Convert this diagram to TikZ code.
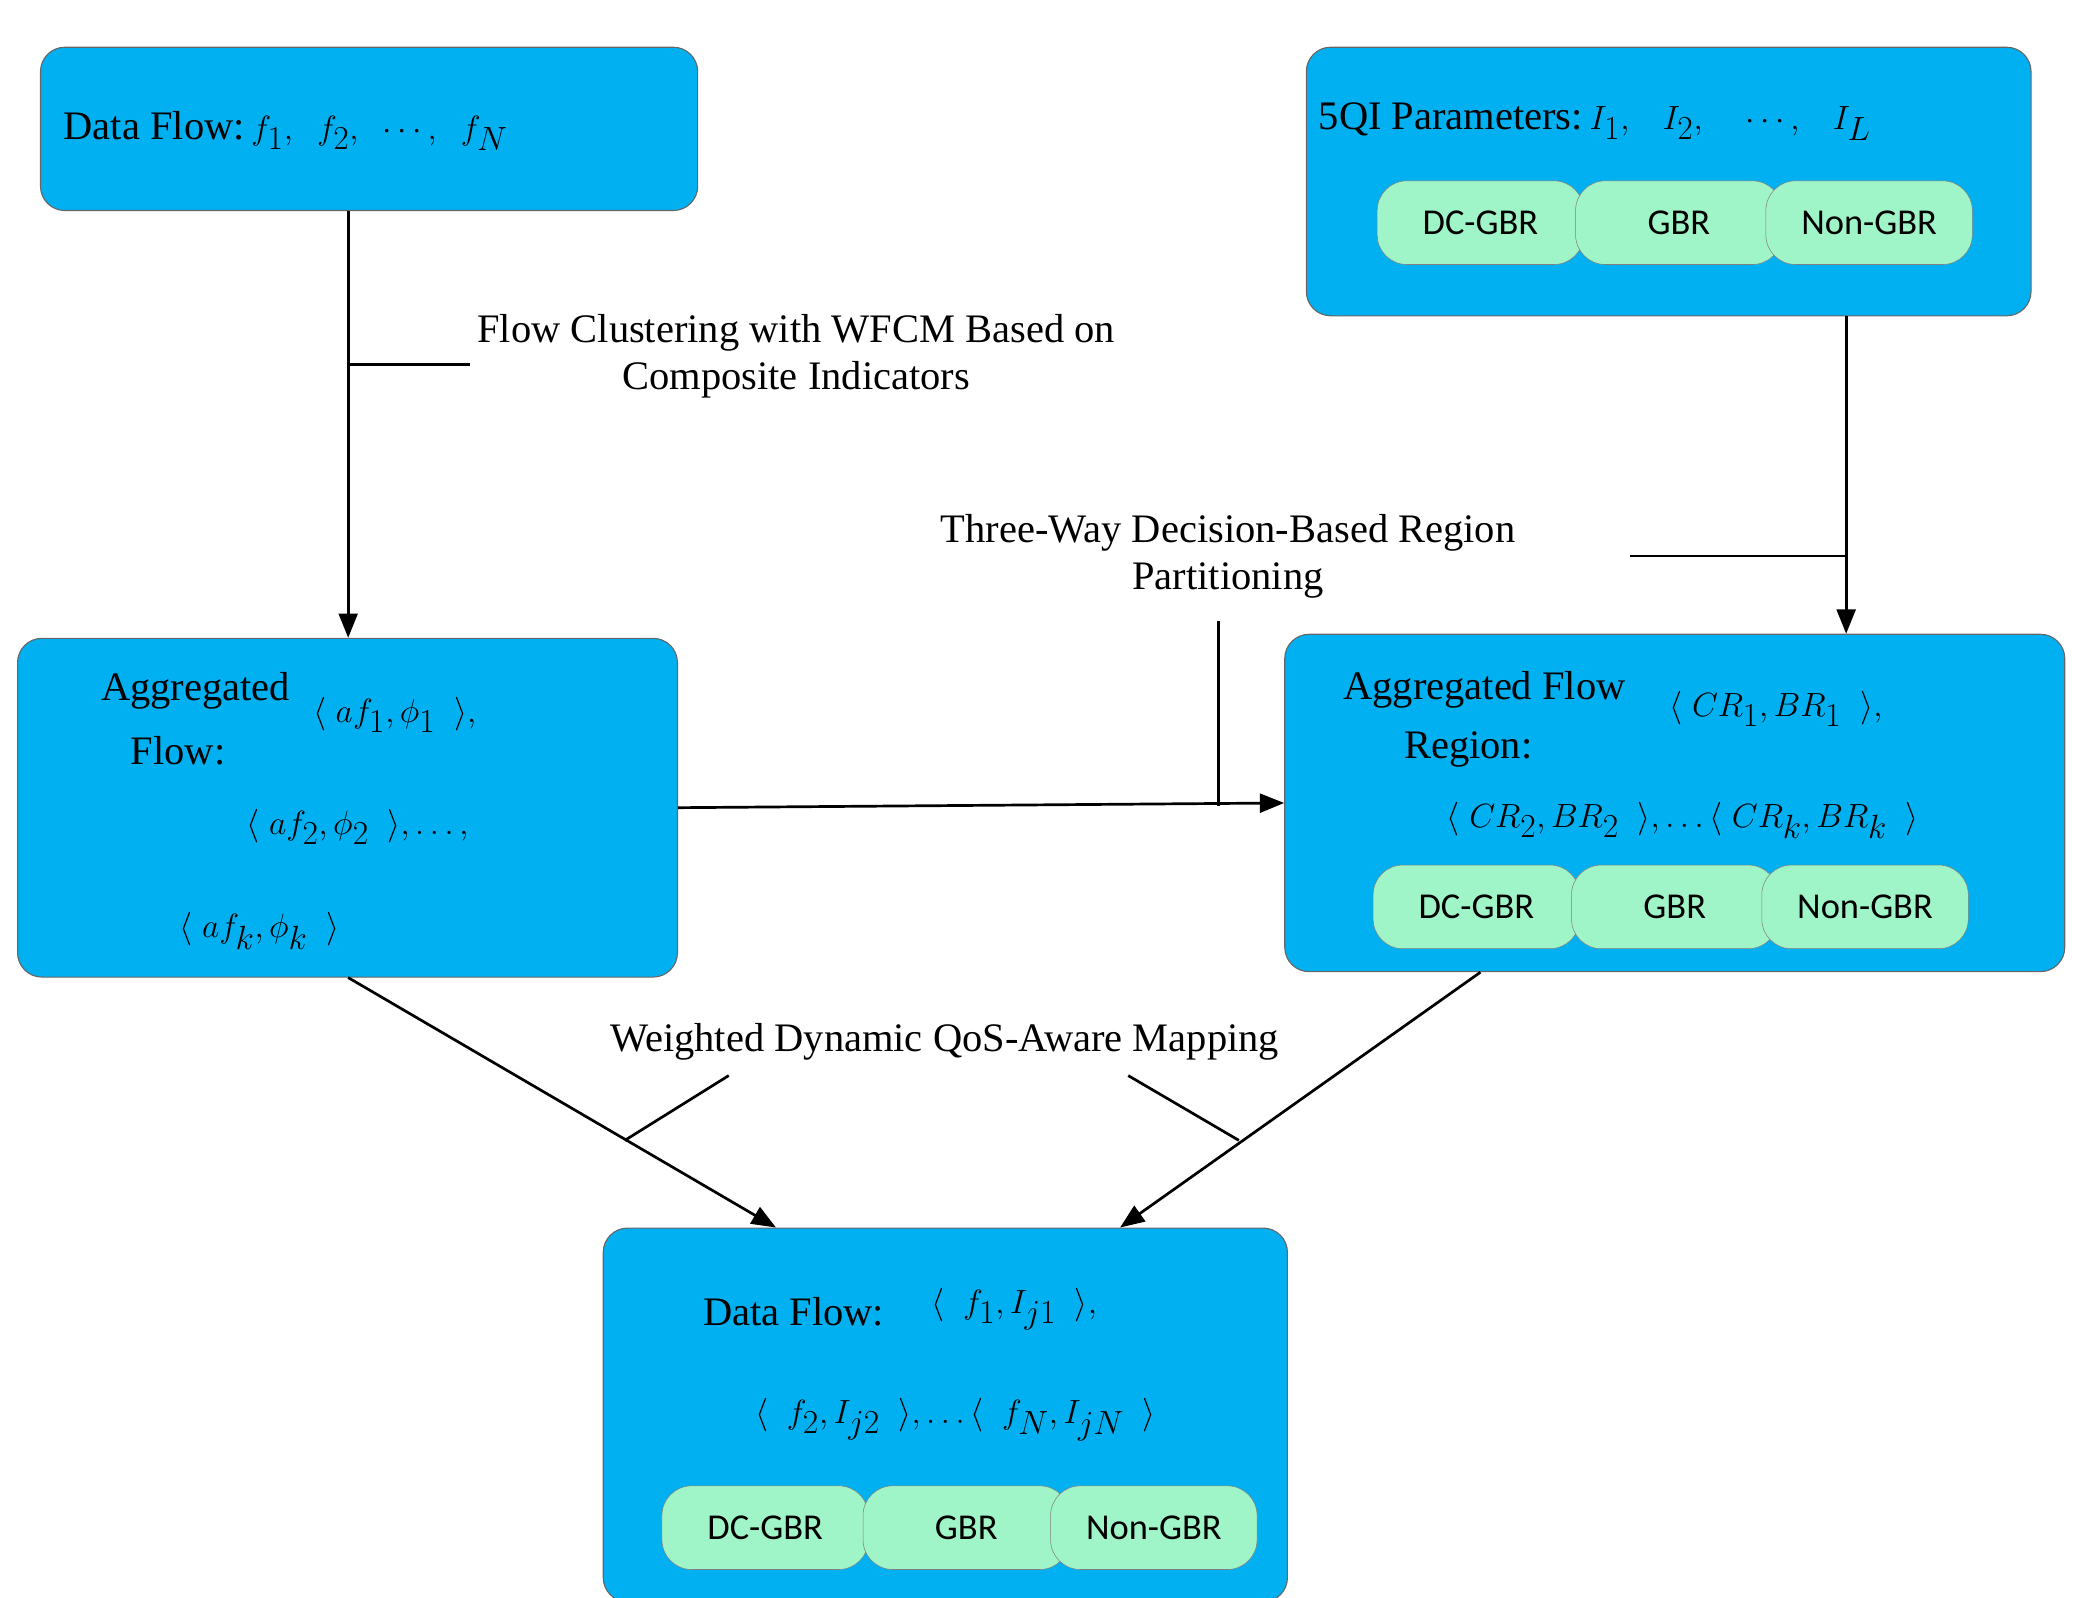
\documentclass[tikz,border=0pt]{standalone}
\usepackage{fontspec}
\setmainfont{Liberation Serif}
\newfontfamily\pillfont{Carlito}
\usetikzlibrary{arrows.meta,calc}
\begin{document}
\begin{tikzpicture}[x=1pt,y=-1pt,
  box/.style={draw=black!60,fill=cyan!70!blue!20!cyan,fill={rgb,255:red,0;green,176;blue,240},rounded corners=18pt,line width=0.8pt,inner sep=0pt},
  pill/.style={draw=black!50,fill={rgb,255:red,160;green,245;blue,200},rounded corners=22pt,minimum width=153pt,minimum height=62pt,font=\pillfont\fontsize{27}{30}\selectfont,inner sep=0pt},
  txt/.style={font=\fontsize{30}{35}\selectfont,align=center,inner sep=0pt},
  mth/.style={font=\fontsize{36}{44}\selectfont,inner sep=0pt},
  arr/.style={line width=2pt,-{Triangle[length=18pt,width=14pt]}},
  ln/.style={line width=2pt}]
\useasboundingbox (0,0) rectangle (1545,1184);
% boxes
\node[box,minimum width=487pt,minimum height=121pt] (A) at (273.5,95.5) {};
\node[box,minimum width=537pt,minimum height=199pt] (B) at (1236.5,134.5) {};
\node[box,minimum width=489pt,minimum height=251pt] (C) at (257.5,598.5) {};
\node[box,minimum width=578pt,minimum height=250pt] (D) at (1241,595) {};
\node[box,minimum width=507pt,minimum height=277pt] (E) at (700.5,1048.5) {};
% pills
\node[pill] (b1) at (1097,165) {DC-GBR};
\node[pill] (b2) at (1244,165) {GBR};
\node[pill] (b3) at (1385,165) {Non-GBR};
\node[pill] (d1) at (1094,672) {DC-GBR};
\node[pill] (d2) at (1241,672) {GBR};
\node[pill] (d3) at (1382,672) {Non-GBR};
\node[pill] (e1) at (567,1132) {DC-GBR};
\node[pill] (e2) at (716,1132) {GBR};
\node[pill] (e3) at (855,1132) {Non-GBR};
% box texts
\node[txt,anchor=west] (at) at (47,97) {Data Flow:\,{\fontsize{36}{40}\selectfont$f_1,\;\; f_2,\;\; \cdots,\;\; f_N$}};
\node[txt,anchor=west] (bt) at (977,90) {5QI Parameters:\,{\fontsize{36}{40}\selectfont$I_1,\;\;\; I_2,\;\;\;\; \cdots,\;\;\; I_L$}};
\node[txt] (ct1) at (145,512) {Aggregated};
\node[txt] (ct2) at (132,556) {Flow:};
\node[mth,anchor=west] (cm1) at (232,530) {$\Big\langle\; af_1,\phi_1\;\;\Big\rangle,$};
\node[mth] (cm2) at (265,613) {$\Big\langle\; af_2,\phi_2\;\;\Big\rangle,\ldots,$};
\node[mth,anchor=west] (cm3) at (133,690) {$\Big\langle\; af_k,\phi_k\;\;\Big\rangle$};
\node[txt] (dt1) at (1100,511) {Aggregated Flow};
\node[txt] (dt2) at (1088,555) {Region:};
\node[mth,anchor=west] (dm1) at (1237,525) {$\Big\langle\; CR_1,BR_1\;\;\Big\rangle,$};
\node[mth] (dm2) at (1247,608) {$\Big\langle\; CR_2,BR_2\;\;\Big\rangle,\ldots\Big\langle\; CR_k,BR_k\;\;\Big\rangle$};
\node[txt] (et1) at (588,972) {Data Flow:};
\node[mth,anchor=west] (em1) at (690,970) {$\Big\langle\;\; f_1,I_{j1}\;\;\Big\rangle,$};
\node[mth] (em2) at (708,1052) {$\Big\langle\;\; f_2,I_{j2}\;\;\Big\rangle,\ldots\Big\langle\;\; f_N,I_{jN}\;\;\Big\rangle$};
% labels
\node[txt] (l1) at (590,264) {Flow Clustering with WFCM Based on\\Composite Indicators};
\node[txt] (l2) at (910,412) {Three-Way Decision-Based Region\\Partitioning};
\node[txt] (l3) at (700,772) {Weighted Dynamic QoS-Aware Mapping};
% connectors
\coordinate (p1) at (258,270); \coordinate (q1) at (348,270);
\draw[arr] ([xshift=-15.5pt]A.south) -- ([xshift=0.5pt]C.north);
\draw[ln] (p1) -- (q1);
\coordinate (p2) at (1368,412); \coordinate (q2) at (1208,412);
\draw[arr] ([xshift=131.5pt]B.south) -- ([xshift=127pt]D.north);
\draw[ln] (p2) -- (q2);
\coordinate (p3) at (903,597); \coordinate (q3) at (903,460);
\draw[arr] (C.east) -- (D.west);
\draw[ln] (p3) -- (q3);
\coordinate (m1) at (463,845); \coordinate (n1) at (540,797);
\coordinate (m2) at (918,845); \coordinate (n2) at (836,797);
\draw[arr] ([xshift=0.5pt]C.south) -- ([xshift=-125.5pt]E.north);
\draw[arr] ([xshift=-144pt]D.south) -- ([xshift=129.5pt]E.north);
\draw[ln] (m1) -- (n1);
\draw[ln] (m2) -- (n2);
\end{tikzpicture}
\end{document}
